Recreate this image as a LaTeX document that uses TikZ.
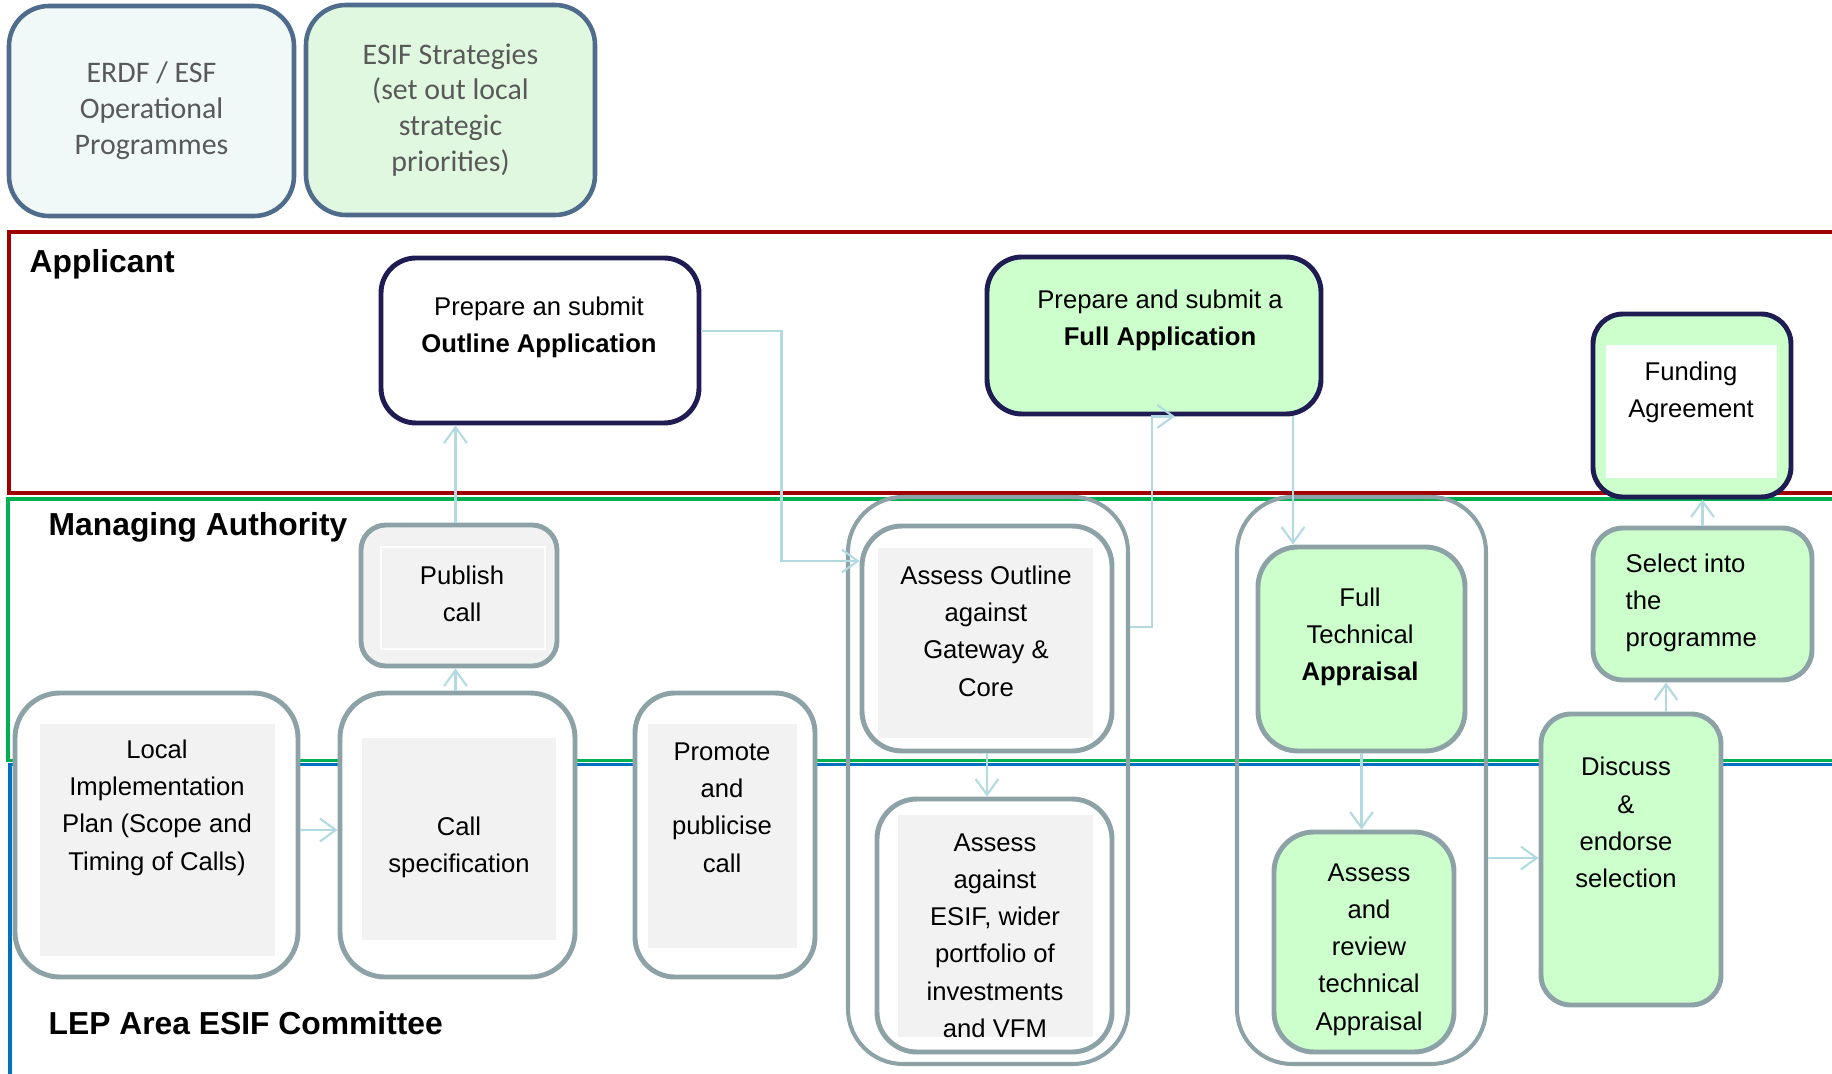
\documentclass[tikz,border=0pt]{standalone}
\usepackage{fontspec}
\setmainfont{Liberation Sans}
\newfontfamily\calfont{Carlito}
\usetikzlibrary{shapes,arrows.meta,calc}

\definecolor{boxgray}{RGB}{140,162,166}
\definecolor{panelgray}{RGB}{242,242,242}
\definecolor{boxgreen}{RGB}{204,255,204}
\definecolor{appnavy}{RGB}{30,28,82}
\definecolor{arrowblue}{RGB}{178,218,224}
\definecolor{lanered}{RGB}{160,0,0}
\definecolor{lanegreen}{RGB}{0,176,80}
\definecolor{laneblue}{RGB}{0,112,192}
\definecolor{opfill}{RGB}{240,248,248}
\definecolor{opborder}{RGB}{79,108,140}
\definecolor{stratfill}{RGB}{223,248,223}
\definecolor{greytext}{RGB}{89,89,89}

\newcommand{\boxfont}{\fontsize{7.3}{10.6}\selectfont}
\newcommand{\lanefont}{\fontsize{9.05}{10}\selectfont\bfseries}

\tikzstyle{block}=[rectangle, draw=boxgray, line width=1.4pt, fill=white,
                   rounded corners=0.45cm, inner sep=0pt]
\tikzstyle{greenblock}=[block, fill=boxgreen]
\tikzstyle{appblock}=[block, draw=appnavy]
\tikzstyle{group}=[rectangle, draw=boxgray, line width=1.15pt,
                   rounded corners=0.55cm, inner sep=0pt]
\tikzstyle{panel}=[rectangle, fill=panelgray, inner sep=0pt]
\tikzstyle{txt}=[align=center, font=\boxfont, inner sep=0pt]
\tikzstyle{lanelabel}=[anchor=west, font=\lanefont, inner sep=0pt]
\tikzstyle{lane}=[line width=1pt]
\tikzstyle{line}=[draw=arrowblue, line width=0.6pt,
                  -{Straight Barb[length=4.5pt,width=6.5pt]}]
\tikzstyle{source}=[rectangle, draw=opborder, line width=1.3pt, rounded corners=0.4cm,
                    minimum height=2.1cm, align=center, text=greytext,
                    font=\calfont\fontsize{8.5}{10.2}\selectfont]

\begin{document}
\begin{tikzpicture}
    \useasboundingbox (0,0) rectangle (18.32,-10.74);
    % programmes and strategies
    \node [source, fill=opfill, minimum width=2.85cm] (erdf) at (1.515,-1.11) {ERDF / ESF\\Operational\\Programmes};
    \node [source, fill=stratfill, minimum width=2.89cm] (strat) at (4.505,-1.10) {ESIF Strategies\\(set out local\\strategic\\priorities)};
    % swimlanes
    \draw [lane, lanered] (18.6,-2.32) -- (0.09,-2.32) -- (0.09,-4.93) -- (18.6,-4.93);
    \draw [lane, lanegreen] (18.6,-4.99) -- (0.08,-4.99) -- (0.08,-7.605) -- (18.6,-7.605);
    \draw [lane, laneblue] (18.6,-7.645) -- (0.10,-7.645) -- (0.10,-10.9);
    \node [lanelabel] (applicant) at (0.29,-2.64) {Applicant};
    \node [lanelabel] (managing) at (0.48,-5.27) {Managing Authority};
    \node [lanelabel] (lep) at (0.48,-10.23) {LEP Area ESIF Committee};
    % groups
    \node [group, minimum width=2.80cm, minimum height=5.67cm] (grp1) at (9.88,-7.805) {};
    \node [group, minimum width=2.49cm, minimum height=5.67cm] (grp2) at (13.615,-7.805) {};
    % applicant
    \node [appblock, rounded corners=0.35cm, minimum width=3.18cm, minimum height=1.65cm] (outline) at (5.40,-3.405) {};
    \node [txt] (outlineT) at (5.39,-3.275) {Prepare an submit\\\textbf{Outline Application}};
    \node [appblock, fill=boxgreen, rounded corners=0.35cm, minimum width=3.34cm, minimum height=1.57cm] (fullapp) at (11.54,-3.355) {};
    \node [txt] (fullappT) at (11.60,-3.20) {Prepare and submit a\\\textbf{Full Application}};
    \node [appblock, fill=boxgreen, rounded corners=0.3cm, minimum width=1.98cm, minimum height=1.83cm] (funding) at (16.92,-4.055) {};
    \node [panel, fill=white, minimum width=1.71cm, minimum height=1.33cm] (fundingP) at (16.915,-4.115) {};
    \node [txt] (fundingT) at (16.91,-3.92) {Funding\\Agreement};
    % managing authority
    \node [block, fill=panelgray, rounded corners=0.25cm, minimum width=1.96cm, minimum height=1.41cm] (publish) at (4.59,-5.955) {};
    \node [panel, draw=white, line width=0.5pt, minimum width=1.64cm, minimum height=1.02cm] (publishP) at (4.63,-5.98) {};
    \node [txt] (publishT) at (4.62,-5.94) {Publish\\call};
    \node [block, rounded corners=0.4cm, minimum width=2.50cm, minimum height=2.25cm] (assessOut) at (9.87,-6.385) {};
    \node [panel, minimum width=2.15cm, minimum height=1.90cm] (assessOutP) at (9.855,-6.43) {};
    \node [txt] (assessOutT) at (9.86,-6.31) {Assess Outline\\against\\Gateway \&\\Core};
    \node [greenblock, rounded corners=0.4cm, minimum width=2.07cm, minimum height=2.04cm] (fullTech) at (13.615,-6.49) {};
    \node [txt] (fullTechT) at (13.60,-6.37) {Full\\Technical\\\textbf{Appraisal}};
    \node [greenblock, rounded corners=0.3cm, minimum width=2.19cm, minimum height=1.52cm] (select) at (17.025,-6.04) {};
    \node [txt, align=left, anchor=west] (selectT) at (16.25,-6.03) {Select into\\the\\programme};
    % committee
    \node [block, minimum width=2.83cm, minimum height=2.84cm] (local) at (1.565,-8.35) {};
    \node [panel, minimum width=2.35cm, minimum height=2.32cm] (localP) at (1.575,-8.40) {};
    \node [txt] (localT) at (1.57,-8.075) {Local\\Implementation\\Plan (Scope and\\Timing of Calls)};
    \node [block, minimum width=2.35cm, minimum height=2.84cm] (callspec) at (4.575,-8.35) {};
    \node [panel, minimum width=1.94cm, minimum height=2.02cm] (callspecP) at (4.59,-8.39) {};
    \node [txt] (callspecT) at (4.59,-8.47) {Call\\specification};
    \node [block, rounded corners=0.4cm, minimum width=1.80cm, minimum height=2.84cm] (promote) at (7.25,-8.35) {};
    \node [panel, minimum width=1.49cm, minimum height=2.24cm] (promoteP) at (7.225,-8.36) {};
    \node [txt] (promoteT) at (7.22,-8.075) {Promote\\and\\publicise\\call};
    \node [block, rounded corners=0.4cm, minimum width=2.35cm, minimum height=2.53cm] (assessEsif) at (9.945,-9.255) {};
    \node [panel, minimum width=1.95cm, minimum height=2.22cm] (assessEsifP) at (9.955,-9.26) {};
    \node [txt] (assessEsifT) at (9.95,-9.355) {Assess\\against\\ESIF, wider\\portfolio of\\investments\\and VFM};
    \node [greenblock, rounded corners=0.4cm, minimum width=1.80cm, minimum height=2.20cm] (review) at (13.64,-9.42) {};
    \node [txt] (reviewT) at (13.69,-9.495) {Assess\\and\\review\\technical\\Appraisal};
    \node [greenblock, rounded corners=0.3cm, minimum width=1.80cm, minimum height=2.91cm] (discuss) at (16.31,-8.595) {};
    \node [txt] (discussT) at (16.26,-8.225) {Discuss\\\&\\endorse\\selection};
    % connectors
    \coordinate (callTop) at ($(callspec.north)+(-0.02,0)$);
    \coordinate (fullappOut) at ($(fullapp.south)+(1.39,0)$);
    \coordinate (discussTop) at ($(discuss.north)+(0.35,0)$);
    \path [line] ([yshift=0.05cm]local.east) -- ([yshift=0.05cm]callspec.west);
    \path [line] (callTop) -- (callTop |- publish.south);
    \path [line] (publish.north -| callTop) -- (callTop |- outline.south);
    \path [line] ([yshift=0.095cm]outline.east) -- ++(0.80,0) |- ([yshift=0.775cm]assessOut.west);
    \path [line] (assessOut.south) -- (assessOut.south |- assessEsif.north);
    \path [line] ([yshift=1.535cm]grp1.east) -| ([xshift=-0.02cm]fullapp.south) -- ([xshift=0.21cm]fullapp.south);
    \path [line] (fullappOut) -- (fullappOut |- fullTech.north);
    \path [line] (fullTech.south) -- (fullTech.south |- review.north);
    \path [line] ([yshift=-0.775cm]grp2.east) -- ([yshift=-0.775cm]grp2.east -| discuss.west);
    \path [line] (discussTop) -- (discussTop |- select.south);
    \path [line] (select.north) -- (select.north |- funding.south);
\end{tikzpicture}
\end{document}
